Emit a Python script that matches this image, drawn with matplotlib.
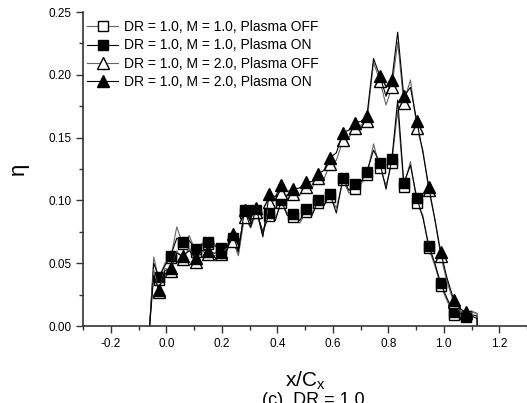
import matplotlib
matplotlib.use('Agg')
import matplotlib.pyplot as plt
from matplotlib.ticker import MultipleLocator, FormatStrFormatter

plt.rcParams['font.family'] = ['Liberation Sans', 'DejaVu Sans']
plt.rcParams['mathtext.default'] = 'regular'

# x positions of the curve samples (markers sit on every second one, from index 2)
x_pos = [-0.060, -0.045, -0.027, -0.005, 0.016, 0.038, 0.059, 0.083, 0.106, 0.128,
         0.149, 0.172, 0.196, 0.218, 0.239, 0.260, 0.282, 0.304, 0.325, 0.348,
         0.371, 0.393, 0.415, 0.436, 0.458, 0.481, 0.504, 0.525, 0.547, 0.568,
         0.590, 0.613, 0.637, 0.658, 0.680, 0.702, 0.723, 0.747, 0.770, 0.792,
         0.813, 0.834, 0.856, 0.880, 0.903, 0.925, 0.946, 0.968, 0.989, 1.012,
         1.036, 1.058, 1.079, 1.100, 1.120, 1.121]

# eta, DR = 1.0, M = 1.0, plasma off
eta_m1_off = [0.000, 0.055, 0.037, 0.050, 0.054, 0.079, 0.065, 0.072, 0.059, 0.066,
              0.065, 0.066, 0.060, 0.062, 0.068, 0.060, 0.090, 0.082, 0.090, 0.076,
              0.088, 0.086, 0.098, 0.090, 0.087, 0.082, 0.091, 0.089, 0.098, 0.096,
              0.103, 0.094, 0.116, 0.106, 0.109, 0.113, 0.120, 0.145, 0.126, 0.112,
              0.130, 0.172, 0.111, 0.131, 0.098, 0.088, 0.062, 0.048, 0.032, 0.020,
              0.009, 0.013, 0.007, 0.012, 0.010, 0.000]
# eta, DR = 1.0, M = 1.0, plasma on
eta_m1_on = [0.000, 0.050, 0.039, 0.048, 0.056, 0.070, 0.067, 0.068, 0.061, 0.064,
             0.067, 0.064, 0.062, 0.060, 0.070, 0.058, 0.092, 0.084, 0.092, 0.074,
             0.090, 0.084, 0.100, 0.088, 0.089, 0.084, 0.093, 0.088, 0.100, 0.096,
             0.105, 0.090, 0.118, 0.108, 0.113, 0.115, 0.123, 0.140, 0.130, 0.109,
             0.133, 0.180, 0.114, 0.128, 0.102, 0.086, 0.064, 0.050, 0.034, 0.022,
             0.011, 0.010, 0.008, 0.009, 0.008, 0.000]
# eta, DR = 1.0, M = 2.0, plasma off
eta_m2_off = [0.000, 0.045, 0.027, 0.046, 0.044, 0.060, 0.053, 0.062, 0.051, 0.060,
              0.057, 0.056, 0.057, 0.062, 0.068, 0.056, 0.087, 0.078, 0.091, 0.072,
              0.099, 0.100, 0.106, 0.104, 0.105, 0.104, 0.111, 0.110, 0.118, 0.117,
              0.129, 0.132, 0.148, 0.150, 0.158, 0.160, 0.163, 0.210, 0.195, 0.176,
              0.190, 0.226, 0.178, 0.196, 0.158, 0.140, 0.108, 0.085, 0.056, 0.035,
              0.019, 0.012, 0.010, 0.011, 0.010, 0.000]
# eta, DR = 1.0, M = 2.0, plasma on
eta_m2_on = [0.000, 0.040, 0.029, 0.044, 0.046, 0.058, 0.056, 0.060, 0.054, 0.060,
             0.060, 0.058, 0.059, 0.063, 0.073, 0.060, 0.092, 0.079, 0.094, 0.071,
             0.105, 0.103, 0.112, 0.107, 0.109, 0.110, 0.115, 0.115, 0.121, 0.124,
             0.134, 0.138, 0.154, 0.156, 0.162, 0.163, 0.167, 0.213, 0.199, 0.183,
             0.196, 0.234, 0.183, 0.190, 0.163, 0.138, 0.111, 0.085, 0.059, 0.038,
             0.021, 0.014, 0.011, 0.008, 0.006, 0.000]

labels = ['DR = 1.0, M = 1.0, Plasma OFF', 'DR = 1.0, M = 1.0, Plasma ON',
          'DR = 1.0, M = 2.0, Plasma OFF', 'DR = 1.0, M = 2.0, Plasma ON']

fig = plt.figure(figsize=(5.27, 4.03), dpi=100)
ax = fig.add_axes([0.1575, 0.191, 0.8425, 0.779])

marks = slice(2, 53, 2)
ax.plot(x_pos, eta_m1_off, color='#666666', lw=0.8, marker='s', ms=7.5,
        mfc='white', mec='black', mew=1.0, markevery=marks, label=labels[0])
ax.plot(x_pos, eta_m1_on, color='black', lw=0.8, marker='s', ms=7.5,
        mfc='black', mec='black', mew=1.0, markevery=marks, label=labels[1])
ax.plot(x_pos, eta_m2_off, color='#666666', lw=0.8, marker='^', ms=9,
        mfc='white', mec='black', mew=1.0, markevery=marks, label=labels[2])
ax.plot(x_pos, eta_m2_on, color='black', lw=0.8, marker='^', ms=9,
        mfc='black', mec='black', mew=1.0, markevery=marks, label=labels[3])

ax.set_xlim(-0.3, 1.3)
ax.set_ylim(0, 0.25)
ax.xaxis.set_major_locator(MultipleLocator(0.2))
ax.xaxis.set_minor_locator(MultipleLocator(0.1))
ax.yaxis.set_major_locator(MultipleLocator(0.05))
ax.yaxis.set_minor_locator(MultipleLocator(0.025))
ax.xaxis.set_major_formatter(FormatStrFormatter('%.1f'))
ax.yaxis.set_major_formatter(FormatStrFormatter('%.2f'))
ax.tick_params(which='major', direction='out', length=5, width=1, labelsize=8.5, color='#333333')
ax.tick_params(which='minor', direction='out', length=3, width=1, color='#333333')
for s in ['top', 'right']:
    ax.spines[s].set_visible(False)
for s in ['left', 'bottom']:
    ax.spines[s].set_linewidth(1.2)
    ax.spines[s].set_color('#333333')

ax.set_xlabel('x/C$_x$', fontsize=15, labelpad=14)
ax.set_ylabel('η', fontsize=16, labelpad=14)

ax.legend(loc='upper left', frameon=False, fontsize=10, handlelength=2.2,
          handletextpad=0.4, borderaxespad=0.3, labelspacing=0.3,
          bbox_to_anchor=(-0.012, 1.005))

# caption sits partly below the bottom edge, as in the source figure
fig.text(0.595, 0.028, '(c)  DR = 1.0', fontsize=13, ha='center', va='top')

fig.savefig('out.png', dpi=100)
